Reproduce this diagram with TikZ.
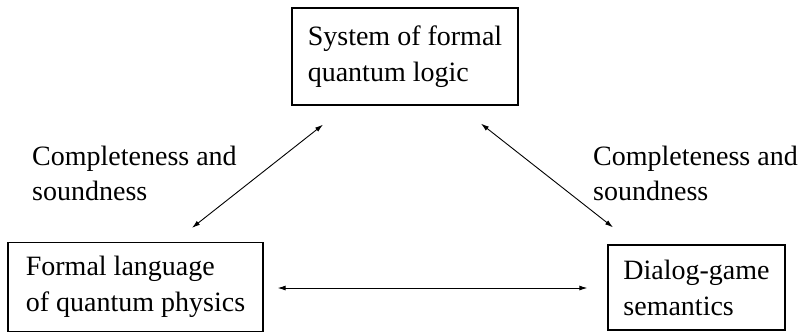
\documentclass[tikz,border=0pt]{standalone}
\usepackage{fontspec}
\setmainfont{Liberation Serif}
\usetikzlibrary{arrows.meta}
\tikzset{
  box/.style={draw, line width=1.3pt, align=left, inner sep=0pt, font=\fontsize{28}{36}\selectfont},
  lab/.style={align=left, inner sep=0pt, anchor=north west, font=\fontsize{28}{35}\selectfont},
  conn/.style={{Latex[length=8pt,width=5pt]}-{Latex[length=8pt,width=5pt]}, line width=0.9pt}
}
\begin{document}
\begin{tikzpicture}[x=1pt,y=-1pt]
\useasboundingbox (0,0) rectangle (802,333);
\node[box, minimum width=226pt, minimum height=97pt] (top) at (405,56.5) {System of formal\\quantum logic};
\node[box, minimum width=255pt, minimum height=89pt] (left) at (135.5,287) {Formal language\\of quantum physics};
\node[box, minimum width=177pt, minimum height=85pt] (right) at (696.5,287.5) {Dialog-game\\semantics};
\node[lab] (ll) at (32,146) {Completeness and\\soundness};
\node[lab] (rl) at (593,146) {Completeness and\\soundness};
\draw[conn] ([shift={(56.5,-14)}]left.north) -- ([shift={(-82,19)}]top.south);
\draw[conn] ([shift={(76,18)}]top.south) -- ([shift={(-83.5,-17)}]right.north);
\draw[conn] ([shift={(14,1)}]left.east) -- ([shift={(-20,0.5)}]right.west);
\end{tikzpicture}
\end{document}
